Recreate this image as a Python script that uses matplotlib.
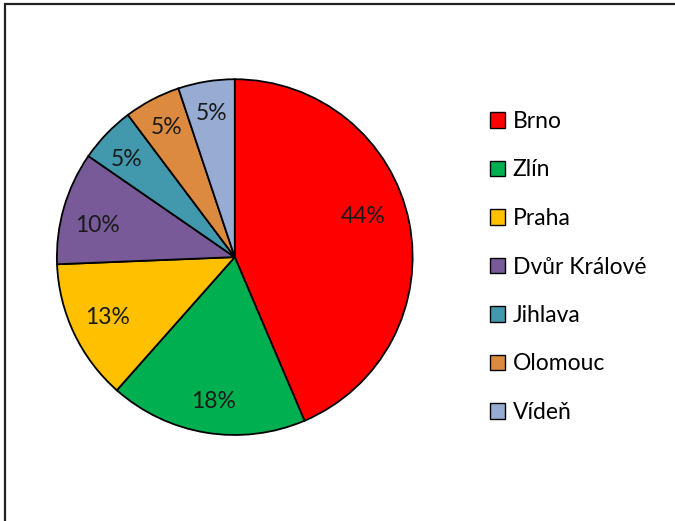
import numpy as np
import matplotlib
matplotlib.use("Agg")
import matplotlib.pyplot as plt
from matplotlib.patches import Rectangle, Patch

plt.rcParams['font.family'] = ['Lato', 'DejaVu Sans']

cities = ['Brno', 'Zlín', 'Praha', 'Dvůr Králové', 'Jihlava', 'Olomouc', 'Vídeň']
counts = [17, 7, 5, 4, 2, 2, 2]
colors = ['#FF0000', '#00B050', '#FFC000', '#775A97', '#4298AD', '#DB8A40', '#97ABD3']
# placement of each % label: distance from centre (fraction of radius), angle shift (deg)
label_dist = [0.76, 0.82, 0.79, 0.79, 0.82, 0.82, 0.82]
label_shift = [6, 1, 0, 3, 2, 0, 0]

fig = plt.figure(figsize=(6.75, 5.21), dpi=100)
ax = fig.add_axes([0.348 - 0.2637, 0.5067 - 0.3417, 0.527, 0.683])

wedges, _ = ax.pie(counts, colors=colors, startangle=90, counterclock=False,
                   wedgeprops=dict(edgecolor='black', linewidth=1.3))
total = sum(counts)
for w, c, d, s in zip(wedges, counts, label_dist, label_shift):
    ang = np.deg2rad((w.theta1 + w.theta2) / 2 + s)
    ax.text(d * np.cos(ang), d * np.sin(ang), f"{round(100 * c / total)}%",
            ha='center', va='center', fontsize=16.5, color='#1a1a1a')
ax.set_xlim(-1, 1)
ax.set_ylim(-1, 1)
ax.set_aspect('equal')
ax.axis('off')

handles = [Patch(facecolor=col, edgecolor='black', linewidth=1.0) for col in colors]
fig.legend(handles, cities, loc='upper left', bbox_to_anchor=(490 / 675, 1 - 111 / 521),
           frameon=False, fontsize=16.5, borderpad=0, borderaxespad=0,
           handlelength=0.65, handleheight=0.65, handletextpad=0.35, labelspacing=1.2)

# chart area border (cut off at the right and bottom)
fig.patches.append(Rectangle((5.5 / 675, -0.1), 1.2, 1 - 4 / 521 + 0.1,
                             transform=fig.transFigure, fill=False,
                             edgecolor='#222222', linewidth=1.6))

fig.savefig('out.png', dpi=100)
